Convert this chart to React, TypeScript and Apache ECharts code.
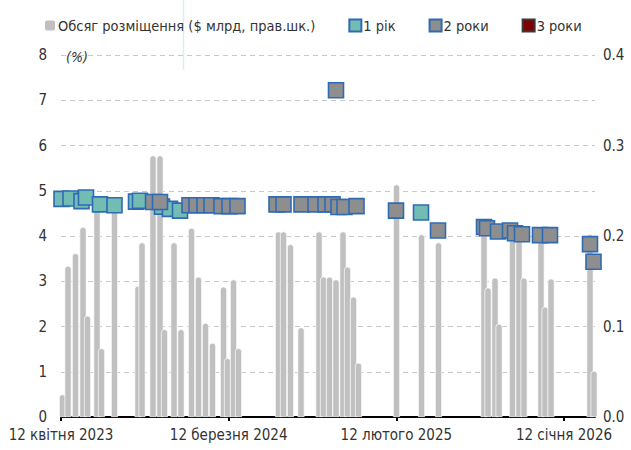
import React, { useEffect, useRef } from "react";
import * as echarts from "echarts";

const START = "2023-04-12";
const tickLabels = ["12 квітня 2023", "12 березня 2024", "12 лютого 2025", "12 січня 2026"];
const tickDates = ["2023-04-12", "2024-03-12", "2025-02-12", "2026-01-12"];

// Placement volume, $ bn (right axis)
const barDates = [
  "2023-04-15", "2023-04-26", "2023-05-11", "2023-05-26", "2023-06-04", "2023-06-23", "2023-07-02", "2023-07-28",
  "2023-09-13", "2023-09-21", "2023-10-13", "2023-10-27", "2023-11-05", "2023-11-24", "2023-12-08", "2023-12-29",
  "2024-01-12", "2024-01-26", "2024-02-09", "2024-03-02", "2024-03-10", "2024-03-22", "2024-04-01",
  "2024-06-20", "2024-06-30", "2024-07-14", "2024-08-04", "2024-09-09", "2024-09-18", "2024-09-30", "2024-10-13",
  "2024-10-27", "2024-11-05", "2024-11-17", "2024-11-27",
  "2025-02-11", "2025-04-02", "2025-05-06", "2025-08-05", "2025-08-13", "2025-08-27", "2025-09-04",
  "2025-10-01", "2025-10-14", "2025-10-24", "2025-11-27", "2025-12-05", "2025-12-17", "2026-03-05", "2026-03-13",
];
const barValues = [
  0.025, 0.167, 0.181, 0.21, 0.112, 0.231, 0.076, 0.23,
  0.145, 0.193, 0.289, 0.289, 0.097, 0.193, 0.097, 0.209,
  0.155, 0.104, 0.082, 0.144, 0.065, 0.152, 0.076,
  0.205, 0.205, 0.191, 0.099, 0.205, 0.155, 0.155, 0.152,
  0.205, 0.166, 0.133, 0.06,
  0.257, 0.202, 0.193, 0.205, 0.143, 0.154, 0.103,
  0.2, 0.2, 0.154, 0.195, 0.122, 0.153, 0.202, 0.051,
];

// 1-year yield, %
const y1Dates = [
  "2023-04-13", "2023-05-01", "2023-05-23", "2023-06-01", "2023-06-29", "2023-07-28",
  "2023-09-09", "2023-09-17", "2023-10-31", "2023-11-16", "2023-12-06", "2025-04-01",
];
const y1Values = [4.82, 4.83, 4.77, 4.85, 4.7, 4.68, 4.76, 4.78, 4.65, 4.6, 4.56, 4.52];

// 2-year yield, %
const y2Dates = [
  "2023-10-13", "2023-10-27", "2023-12-25", "2024-01-08", "2024-01-24", "2024-02-07", "2024-02-27",
  "2024-03-14", "2024-03-30", "2024-06-16", "2024-06-30", "2024-08-05", "2024-09-02", "2024-09-22",
  "2024-10-13", "2024-10-06", "2024-10-18", "2024-10-30", "2024-11-23", "2025-02-10", "2025-05-05",
  "2025-08-05", "2025-08-11", "2025-09-02", "2025-09-26", "2025-10-06", "2025-10-20", "2025-11-25",
  "2025-12-15", "2026-03-05", "2026-03-12",
];
const y2Values = [
  4.75, 4.75, 4.68, 4.68, 4.68, 4.68, 4.66, 4.66, 4.66, 4.7, 4.7, 4.7, 4.7, 4.7,
  7.22, 4.7, 4.64, 4.64, 4.66, 4.56, 4.12,
  4.2, 4.17, 4.1, 4.12, 4.06, 4.04, 4.02, 4.02, 3.82, 3.43,
];

// 3-year yield, % (no placements)
const y3Dates: string[] = [];
const y3Values: number[] = [];

const dayOf = (s: string) => {
  const [y, m, d] = s.split("-").map(Number);
  const [y0, m0, d0] = START.split("-").map(Number);
  return (Date.UTC(y, m - 1, d) - Date.UTC(y0, m0 - 1, d0)) / 86400000;
};

const FONT = "'Liberation Sans Narrow', 'Arial Narrow', 'DejaVu Sans Condensed', sans-serif";

export default function App() {
  const ref = useRef<HTMLDivElement>(null);
  useEffect(() => {
    if (!ref.current) return;
    const chart = echarts.init(ref.current, undefined, { renderer: "svg" });
    const tickDays = tickDates.map(dayOf);
    const interval = tickDays[tickDays.length - 1] / (tickDays.length - 1);
    const markerBorder = "#2e6bb5";
    chart.setOption({
      animation: false,
      textStyle: { fontFamily: FONT },
      grid: { left: 61, right: 36, top: 55, bottom: 33, containLabel: false },
      legend: {
        left: 38,
        top: 13,
        itemWidth: 12,
        itemHeight: 12,
        itemGap: 33,
        textStyle: { fontFamily: FONT, fontSize: 14.5, color: "#333", padding: [0, 0, 0, -3] },
        data: [
          { name: "Обсяг розміщення ($ млрд, прав.шк.)", icon: "roundRect" },
          { name: "1 рік", icon: "rect" },
          { name: "2 роки", icon: "rect" },
          { name: "3 роки", icon: "rect" },
        ],
      },
      graphic: [
        {
          type: "line",
          shape: { x1: 183.5, y1: 0, x2: 183.5, y2: 70 },
          style: { stroke: "#e2ecee", lineWidth: 1.5 },
          silent: true,
        },
        {
          type: "text",
          left: 66,
          top: 50,
          style: { text: "(%)", font: `italic 14px ${FONT}`, fill: "#333" },
        },
      ],
      xAxis: {
        type: "value",
        min: 0,
        max: 1068,
        interval,
        axisLine: { show: true, lineStyle: { color: "#000", width: 2 } },
        axisTick: { show: true, length: 4, lineStyle: { color: "#000", width: 2 } },
        splitLine: { show: false },
        axisLabel: {
          fontFamily: FONT,
          fontSize: 15,
          color: "#333",
          margin: 10,
          showMaxLabel: false,
          formatter: (v: number) => {
            const k = Math.round(v / interval);
            if (Math.abs(v - k * interval) > 1) return "";
            return tickLabels[k] ?? "";
          },
        },
      },
      yAxis: [
        {
          type: "value",
          min: 0,
          max: 8,
          interval: 1,
          axisLine: { show: false },
          axisTick: { show: false },
          splitLine: { show: true, lineStyle: { color: "#c8c8c8", type: [5, 4], width: 1 } },
          axisLabel: { fontFamily: FONT, fontSize: 15, color: "#333", margin: 14 },
        },
        {
          type: "value",
          min: 0,
          max: 0.4,
          interval: 0.1,
          position: "right",
          axisLine: { show: false },
          axisTick: { show: false },
          splitLine: { show: false },
          axisLabel: {
            fontFamily: FONT,
            fontSize: 15,
            color: "#333",
            margin: 8,
            formatter: (v: number) => v.toFixed(1),
          },
        },
      ],
      series: [
        {
          name: "Обсяг розміщення ($ млрд, прав.шк.)",
          type: "bar",
          yAxisIndex: 1,
          barWidth: 7,
          itemStyle: { color: "#c0c0c0", borderColor: "#ffffff", borderWidth: 0.7, borderRadius: [3, 3, 0, 0] },
          data: barDates.map((d, i) => [dayOf(d), barValues[i]]),
        },
        {
          name: "1 рік",
          type: "scatter",
          symbol: "rect",
          symbolSize: 15,
          itemStyle: { color: "#72bcb4", borderColor: markerBorder, borderWidth: 1.6, opacity: 1 },
          data: y1Dates.map((d, i) => [dayOf(d), y1Values[i]]),
          z: 3,
        },
        {
          name: "2 роки",
          type: "scatter",
          symbol: "rect",
          symbolSize: 15,
          itemStyle: { color: "#8e8e8e", borderColor: markerBorder, borderWidth: 1.6, opacity: 1 },
          data: y2Dates.map((d, i) => [dayOf(d), y2Values[i]]),
          z: 4,
        },
        {
          name: "3 роки",
          type: "scatter",
          symbol: "rect",
          symbolSize: 15,
          itemStyle: { color: "#7f0000", borderColor: "#3a3a3a", borderWidth: 1, opacity: 1 },
          data: y3Dates.map((d, i) => [dayOf(d), y3Values[i]]),
          z: 5,
        },
      ],
    });
    return () => chart.dispose();
  }, []);
  return (
    <div
      ref={ref}
      style={{ position: "fixed", left: 0, top: 0, width: 631, height: 450, background: "#fff" }}
    />
  );
}
